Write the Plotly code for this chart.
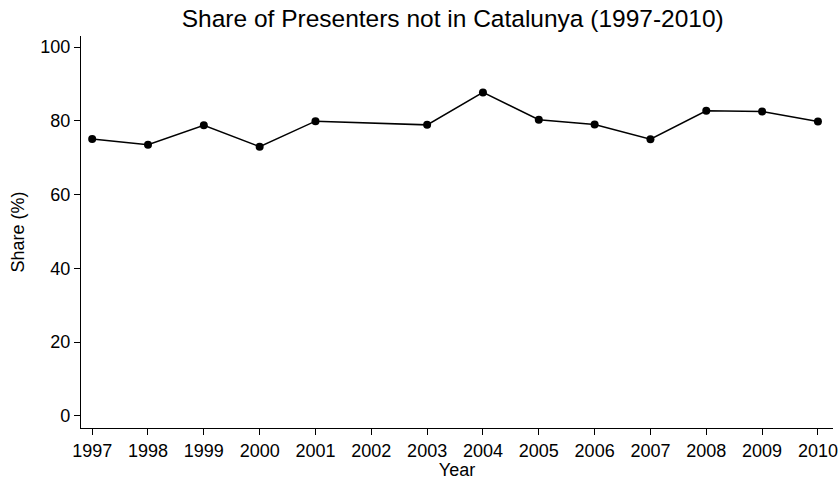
import plotly.graph_objects as go

years = [1997, 1998, 1999, 2000, 2001, 2003, 2004, 2005, 2006, 2007, 2008, 2009, 2010]
share = [75.1, 73.5, 78.8, 73.0, 79.9, 78.9, 87.7, 80.3, 79.0, 75.0, 82.7, 82.5, 79.8]
tick_years = list(range(1997, 2011))
y_ticks = [0, 20, 40, 60, 80, 100]

font_family = "Liberation Sans, Arial, Helvetica, sans-serif"

fig = go.Figure()
fig.add_trace(go.Scatter(
    x=years, y=share, mode="lines+markers",
    line=dict(color="black", width=1.5),
    marker=dict(color="black", size=8),
    showlegend=False,
))

fig.update_layout(
    width=840, height=480,
    margin=dict(l=81, r=7, t=36, b=52, autoexpand=False),
    paper_bgcolor="white", plot_bgcolor="white",
    font=dict(family=font_family, color="black", size=18),
    title=dict(text="Share of Presenters not in Catalunya (1997-2010)",
               xref="container", x=0.539, xanchor="center",
               yref="container", y=0.962, yanchor="middle",
               font=dict(size=24.5, family=font_family, color="black")),
)
fig.update_xaxes(
    range=[1996.8, 2010.27], tickmode="array", tickvals=tick_years,
    ticktext=[str(y) for y in tick_years],
    tickfont=dict(size=18),
    showline=True, linecolor="black", linewidth=1.3,
    ticks="outside", ticklen=6, tickcolor="black",
    showgrid=False, zeroline=False, automargin=False,
    title=dict(text="Year", font=dict(size=18), standoff=7),
)
fig.update_yaxes(
    range=[-3.3, 103], tickmode="array", tickvals=y_ticks,
    tickfont=dict(size=18),
    showline=True, linecolor="black", linewidth=1.3,
    ticks="outside", ticklen=6, tickcolor="black",
    showgrid=False, zeroline=False, automargin=False,
    title=dict(text="Share (%)", font=dict(size=18), standoff=10),
)

fig.write_html("out.html",
               config={"displayModeBar": False},
               post_script="document.body.style.margin='0';document.body.style.overflow='hidden';")
